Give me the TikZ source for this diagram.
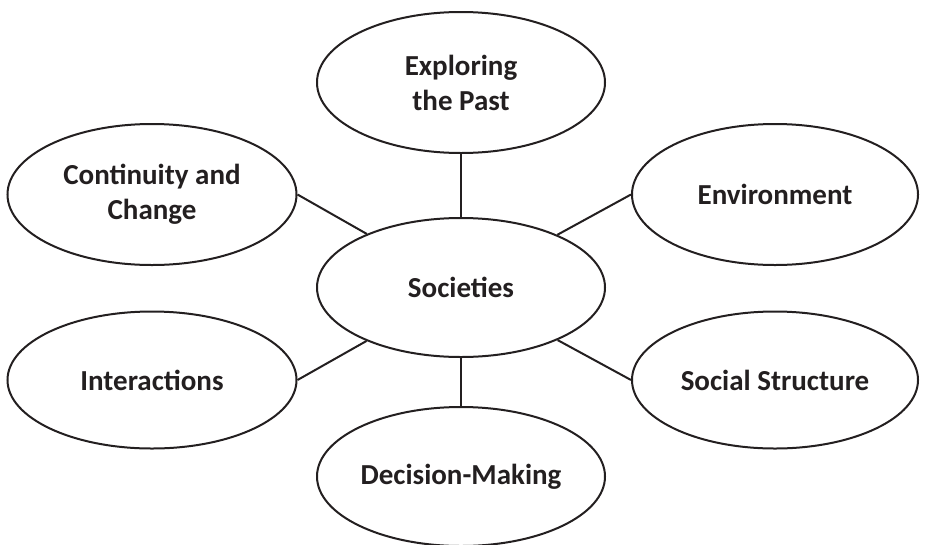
\documentclass[tikz,border=0pt]{standalone}
\usepackage{fontspec}
\setmainfont{Carlito}
\usetikzlibrary{shapes.geometric}
\definecolor{ink}{HTML}{231F20}
\begin{document}
\begin{tikzpicture}[x=1pt,y=-1pt,
  bubble/.style={ellipse, draw=ink, line width=2pt, inner sep=0pt, text=ink,
    align=center, font=\fontsize{29}{35}\selectfont\bfseries},
  link/.style={draw=ink, line width=2pt}]
\useasboundingbox (0,0) rectangle (925,544);
\node[bubble, minimum width=288pt, minimum height=141pt] (past) at (461,82.5) {Exploring\\the Past};
\node[bubble, minimum width=289pt, minimum height=141pt] (cont) at (152,194.5) {Continuity and\\Change};
\node[bubble, minimum width=286pt, minimum height=141pt] (env) at (775,194.5) {Environment};
\node[bubble, minimum width=288pt, minimum height=139pt] (soc) at (461,287.5) {Societies};
\node[bubble, minimum width=289pt, minimum height=137pt] (inter) at (152,380) {Interactions};
\node[bubble, minimum width=286pt, minimum height=137pt] (social) at (775,380) {Social Structure};
\node[bubble, minimum width=288pt, minimum height=139pt] (dec) at (461,476.5) {Decision-Making};
\draw[link] (past.south) -- (soc.north);
\draw[link] (soc.south) -- (dec.north);
\draw[link] (cont.east) -- (soc);
\draw[link] (env.west) -- (soc);
\draw[link] (inter.east) -- (soc);
\draw[link] (social.west) -- (soc);
\end{tikzpicture}
\end{document}
